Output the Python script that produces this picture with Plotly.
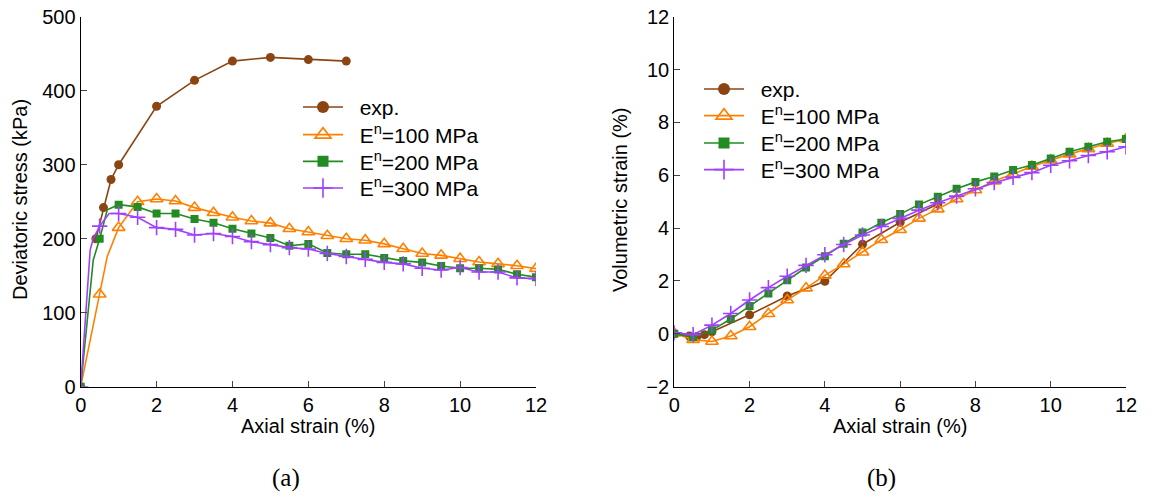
import plotly.graph_objects as go

# ---------------- data ----------------
# (a) deviatoric stress vs axial strain
exp_a_x = [0.4, 0.6, 0.8, 1.0, 2.0, 3.0, 4.0, 5.0, 6.0, 7.0]
exp_a_y = [200, 242, 280, 300, 379, 414, 440, 445, 442, 440]

sim_x = [0, 0.5, 1.0, 1.5, 2.0, 2.5, 3.0, 3.5, 4.0, 4.5, 5.0, 5.5, 6.0,
         6.5, 7.0, 7.5, 8.0, 8.5, 9.0, 9.5, 10.0, 10.5, 11.0, 11.5, 12.0]
e100_a = [0, 125, 215, 250, 253.6, 251, 242, 235, 229, 224, 221, 213.5, 209,
          204, 200, 198, 193, 186.5, 180, 177.5, 173, 168.5, 166, 163.5, 159.5]
e200_a = [0, 200, 246, 243, 234, 234, 226.5, 221.6, 213.5, 207, 201, 190.5, 193,
          180.6, 179, 179, 174, 170, 168, 163, 160, 160, 158.5, 152, 148]
e300_a = [0, 217, 234, 229, 215, 212.6, 205, 207, 203, 196, 192, 188, 186,
          180, 176, 172, 168, 166, 160, 157.7, 161, 155, 155, 147, 146]

# extra line samples read between markers (early, steep part)
e100_a_line_x = [0.7]
e100_a_line_y = [176]
e200_a_line_x = [0.33, 0.7]
e200_a_line_y = [171, 239]
e300_a_line_x = [0.25, 0.33, 0.75]
e300_a_line_y = [185, 200, 234]

# (b) volumetric strain vs axial strain
exp_b_x = [0, 0.4, 0.6, 0.8, 1.0, 2.0, 3.0, 4.0, 5.0, 6.0, 7.0]
exp_b_y = [0, -0.08, -0.1, -0.03, 0.08, 0.72, 1.43, 1.99, 3.39, 4.22, 4.91]

e100_b = [0.02, -0.22, -0.29, -0.08, 0.27, 0.76, 1.28, 1.73, 2.21, 2.64, 3.09, 3.56, 3.94,
          4.37, 4.72, 5.10, 5.44, 5.78, 6.05, 6.33, 6.57, 6.80, 7.00, 7.20, 7.37]
e200_b = [0, -0.13, 0.14, 0.56, 1.05, 1.53, 2.03, 2.51, 2.94, 3.41, 3.83, 4.20, 4.53,
          4.89, 5.19, 5.49, 5.75, 5.95, 6.20, 6.39, 6.63, 6.89, 7.08, 7.27, 7.37]
e300_b = [0.04, -0.03, 0.33, 0.77, 1.28, 1.75, 2.18, 2.59, 2.99, 3.38, 3.74, 4.06, 4.37,
          4.68, 4.96, 5.21, 5.49, 5.72, 5.92, 6.10, 6.38, 6.55, 6.75, 6.89, 7.08]

names = ["exp.", "E<sup>n</sup>=100 MPa", "E<sup>n</sup>=200 MPa", "E<sup>n</sup>=300 MPa"]
colors = ["#8B4513", "#FF8000", "#228B22", "#A040FF"]
symbols = ["circle", "triangle-up-open", "square", "cross-thin"]
msizes = [9, 11, 8, 11]
leg_msizes = [12, 14, 11, 14]

# ---------------- figure ----------------
fig = go.Figure()


def merged(xm, ym, xl, yl):
    pts = sorted(list(zip(xm, ym)) + list(zip(xl, yl)))
    return [p[0] for p in pts], [p[1] for p in pts]


def add_series(x, y, lx, ly, i, xa, ya, legend):
    c = colors[i]
    dx, dy = merged(x, y, lx, ly)
    fig.add_trace(go.Scatter(x=dx, y=dy, mode="lines", line=dict(color=c, width=1.6),
                             xaxis=xa, yaxis=ya, showlegend=False, hoverinfo="skip"))
    mline = dict(color=c, width=1.6 if symbols[i] in ("triangle-up-open", "cross-thin") else 0)
    fig.add_trace(go.Scatter(x=x, y=y, mode="markers",
                             marker=dict(symbol=symbols[i], size=msizes[i], color=c, line=mline),
                             xaxis=xa, yaxis=ya, showlegend=False))
    fig.add_trace(go.Scatter(x=[None], y=[None], mode="lines+markers",
                             name="&nbsp;&nbsp;" + names[i],
                             line=dict(color=c, width=1.6),
                             marker=dict(symbol=symbols[i], size=leg_msizes[i], color=c, line=mline),
                             xaxis=xa, yaxis=ya, legend=legend))


# one legend per item so the rows can be placed exactly
leg_a = ["legend", "legend2", "legend3", "legend4"]
leg_b = ["legend5", "legend6", "legend7", "legend8"]

# panel (a)
add_series(exp_a_x, exp_a_y, [], [], 0, "x", "y", leg_a[0])
add_series(sim_x, e100_a, e100_a_line_x, e100_a_line_y, 1, "x", "y", leg_a[1])
add_series(sim_x, e200_a, e200_a_line_x, e200_a_line_y, 2, "x", "y", leg_a[2])
add_series(sim_x, e300_a, e300_a_line_x, e300_a_line_y, 3, "x", "y", leg_a[3])
# panel (b)
add_series(exp_b_x, exp_b_y, [], [], 0, "x2", "y2", leg_b[0])
add_series(sim_x, e100_b, [], [], 1, "x2", "y2", leg_b[1])
add_series(sim_x, e200_b, [], [], 2, "x2", "y2", leg_b[2])
add_series(sim_x, e300_b, [], [], 3, "x2", "y2", leg_b[3])

W, H = 1164, 501
S = 8  # page offset of the figure inside the browser window
fnt = "Liberation Sans, Arial, sans-serif"
axis_common = dict(showgrid=False, zeroline=False, showline=True, linecolor="black",
                   linewidth=1.3, ticks="inside", ticklen=6, tickcolor="#444",
                   tickwidth=1.2, tickfont=dict(family=fnt, size=20, color="black"),
                   mirror=False, automargin=False, ticklabeloverflow="allow")


def px(v):
    return (v - S) / W


def py(v):
    return 1 - (v - S) / H


y_dom = [py(386.7), py(16.7)]
layout = dict(
    width=W, height=H,
    margin=dict(l=0, r=0, t=0, b=0, autoexpand=False),
    paper_bgcolor="white", plot_bgcolor="white",
    font=dict(family=fnt, size=20, color="black"),
    xaxis=dict(domain=[px(80.7), px(536)], range=[0, 12], dtick=2, anchor="y", **axis_common),
    yaxis=dict(domain=y_dom, range=[0, 500], dtick=100, anchor="x", **axis_common),
    xaxis2=dict(domain=[px(674.3), px(1126)], range=[0, 12], dtick=2, anchor="y2", **axis_common),
    yaxis2=dict(domain=y_dom, range=[-2, 12], dtick=2, anchor="x2", **axis_common),
    showlegend=True,
)
rows_a = [107.3, 135.0, 161.7, 188.3]
rows_b = [89.3, 116.0, 143.3, 170.0]
for lg, r in zip(leg_a, rows_a):
    layout[lg] = dict(x=px(298), y=py(r), xanchor="left", yanchor="middle",
                      bgcolor="rgba(0,0,0,0)", font=dict(family=fnt, size=21),
                      itemwidth=40, tracegroupgap=0)
for lg, r in zip(leg_b, rows_b):
    layout[lg] = dict(x=px(699), y=py(r), xanchor="left", yanchor="middle",
                      bgcolor="rgba(0,0,0,0)", font=dict(family=fnt, size=21),
                      itemwidth=40, tracegroupgap=0)
fig.update_layout(**layout)

ann = [
    dict(text="Axial strain (%)", x=px((80.7 + 536) / 2), y=py(426)),
    dict(text="Axial strain (%)", x=px((674.3 + 1126) / 2), y=py(426)),
    dict(text="Deviatoric stress (kPa)", x=px(20), y=py(200), textangle=-90),
    dict(text="Volumetric strain (%)", x=px(620), y=py(200), textangle=-90),
]
for a in ann:
    fig.add_annotation(xref="paper", yref="paper", showarrow=False, xanchor="center",
                       yanchor="middle", font=dict(family=fnt, size=20, color="black"), **a)
for txt, xc in [("(a)", 286), ("(b)", 881)]:
    fig.add_annotation(text=txt, xref="paper", yref="paper", x=px(xc), y=py(478),
                       showarrow=False, xanchor="center", yanchor="middle",
                       font=dict(family="Liberation Serif, serif", size=25, color="black"))

fig.write_html("out.html")
